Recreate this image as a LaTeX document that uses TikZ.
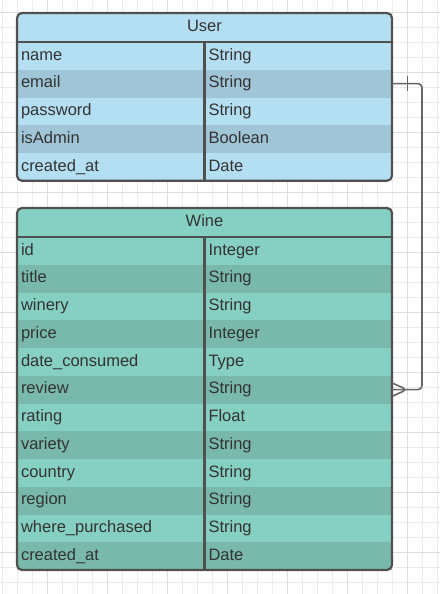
\documentclass[tikz,border=0pt]{standalone}
\usepackage{fontspec}
\setmainfont{Liberation Sans}
\usetikzlibrary{positioning}
\definecolor{userlight}{RGB}{180, 223, 242}
\definecolor{userdark}{RGB}{160, 197, 214}
\definecolor{winelight}{RGB}{133, 208, 194}
\definecolor{winedark}{RGB}{120, 185, 171}
\definecolor{framegray}{RGB}{80, 80, 80}
\definecolor{celltext}{RGB}{51, 51, 51}
\definecolor{gridminor}{RGB}{236, 236, 236}
\definecolor{gridmajor}{RGB}{222, 222, 222}
\definecolor{linkgray}{RGB}{102, 102, 102}
\tikzset{
  every node/.style={
    font=\fontsize{16.5}{19}\selectfont\color{celltext},
    inner sep=0pt,
    outer sep=0pt
  },
  tablehead/.style={
    anchor=north west,
    minimum width=375pt,
    minimum height=29pt,
    text height=12pt,
    text depth=3.5pt
  },
  cellbox/.style={
    anchor=north west,
    text width=179.5pt,
    inner xsep=4pt,
    align=left,
    minimum height=27.75pt,
    text height=12pt,
    text depth=3.5pt
  },
  tableframe/.style={
    draw=framegray,
    line width=2.2pt
  },
  gridline/.style={
    draw=gridminor,
    line width=0.8pt
  },
  gridbold/.style={
    draw=gridmajor,
    line width=1pt
  },
  relation/.style={
    draw=linkgray,
    line width=1.6pt,
    rounded corners=4pt
  }
}

\begin{document}
\begin{tikzpicture}[x=1pt, y=-1pt]
  \useasboundingbox (0,0) rectangle (440,594);
  % background grid
  \foreach \k in {0,...,29} \draw[gridline] ({2.3+15*\k},0) -- ({2.3+15*\k},594);
  \foreach \k in {0,...,39} \draw[gridline] (0,{12.3+15*\k}) -- (440,{12.3+15*\k});
  \foreach \k in {0,...,6} \draw[gridbold] ({47.3+60*\k},0) -- ({47.3+60*\k},594);
  \foreach \k in {0,...,9} \draw[gridbold] (0,{12.3+60*\k}) -- (440,{12.3+60*\k});

  % User table
  \begin{scope}
    \clip[rounded corners=5pt] (17,13) rectangle (392,180.75);
    \node[tablehead, fill=userlight] (user-head) at (17,13) {User};
    \coordinate (user-0-f) at (user-head.south west);
    \foreach \fld/\typ [count=\i] in {name/String, email/String, password/String,
        isAdmin/Boolean, created_at/Date} {
      \pgfmathtruncatemacro\j{\i-1}
      \ifodd\i \def\rowfill{userlight}\else \def\rowfill{userdark}\fi
      \node[cellbox, fill=\rowfill] (user-\i-f) at (user-\j-f.south west) {\detokenize\expandafter{\fld}};
      \node[cellbox, fill=\rowfill] (user-\i-t) at (user-\i-f.north east) {\typ};
    }
  \end{scope}
  \draw[tableframe] (user-head.south west) -- (user-head.south east);
  \draw[tableframe] (user-1-f.north east) -- (user-5-f.south east);
  \draw[tableframe, rounded corners=5pt] (user-head.north west) rectangle (user-5-t.south east);

  % Wine table
  \begin{scope}
    \clip[rounded corners=5pt] (17,208) rectangle (392,571);
    \node[tablehead, fill=winelight] (wine-head) at (17,208) {Wine};
    \coordinate (wine-0-f) at (wine-head.south west);
    \foreach \fld/\typ [count=\i] in {id/Integer, title/String, winery/String,
        price/Integer, date_consumed/Type, review/String, rating/Float,
        variety/String, country/String, region/String,
        where_purchased/String, created_at/Date} {
      \pgfmathtruncatemacro\j{\i-1}
      \ifodd\i \def\rowfill{winelight}\else \def\rowfill{winedark}\fi
      \node[cellbox, fill=\rowfill] (wine-\i-f) at (wine-\j-f.south west) {\detokenize\expandafter{\fld}};
      \node[cellbox, fill=\rowfill] (wine-\i-t) at (wine-\i-f.north east) {\typ};
    }
  \end{scope}
  \draw[tableframe] (wine-head.south west) -- (wine-head.south east);
  \draw[tableframe] (wine-1-f.north east) -- (wine-12-f.south east);
  \draw[tableframe, rounded corners=5pt] (wine-head.north west) rectangle (wine-12-t.south east);

  % one user -- many wines
  \draw[relation] (user-2-t.east) -- ++(30,0) |- (wine-6-t.east);
  \draw[relation] ([xshift=15.5pt, yshift=7.5pt]user-2-t.east) -- ([xshift=15.5pt, yshift=-7.5pt]user-2-t.east);
  \draw[relation] ([yshift=6.7pt]wine-6-t.east) -- ([xshift=15pt]wine-6-t.east) -- ([yshift=-6.7pt]wine-6-t.east);
\end{tikzpicture}
\end{document}
